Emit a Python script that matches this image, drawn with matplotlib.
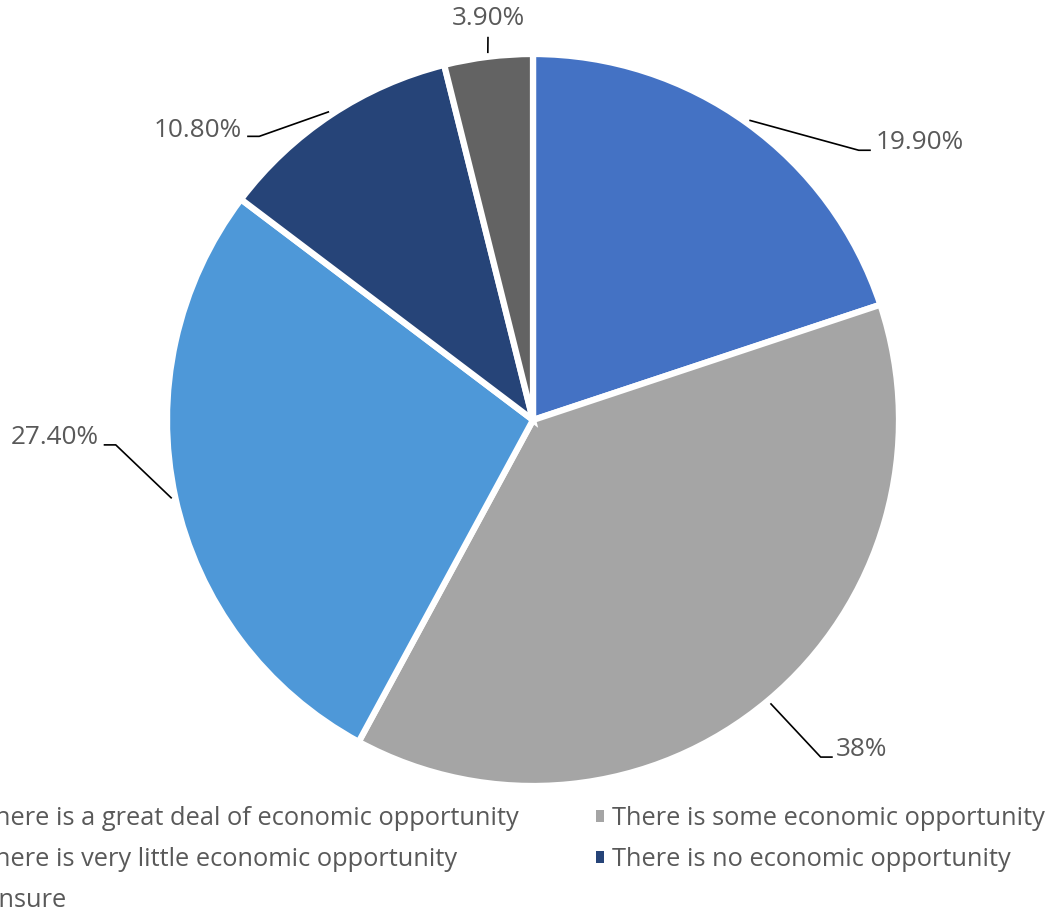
import matplotlib
matplotlib.use("Agg")
import matplotlib.pyplot as plt
from matplotlib.patches import Patch
import numpy as np

categories = [
    "There is a great deal of economic opportunity",
    "There is some economic opportunity",
    "There is very little economic opportunity",
    "There is no economic opportunity",
    "Unsure",
]
values = [19.9, 38.0, 27.4, 10.8, 3.9]
value_labels = ["19.90%", "38%", "27.40%", "10.80%", "3.90%"]
colors = ["#4472C4", "#A5A5A5", "#4E98D8", "#264478", "#636363"]

# label layout (data units, radius = 1): elbow point, line end, text anchor, ha
label_layout = [
    ((0.890, 0.737), (0.923, 0.737), (0.937, 0.759), "left"),
    ((0.786, -0.921), (0.819, -0.921), (0.828, -0.899), "left"),
    ((-1.140, -0.068), (-1.173, -0.068), (-1.187, -0.047), "right"),
    ((-0.748, 0.775), (-0.781, 0.775), (-0.795, 0.792), "right"),
    ((-0.123, 1.047), (-0.123, 1.047), (-0.123, 1.098), "center"),
]

W, H = 1054, 911
plt.rcParams['font.family'] = ['Open Sans', 'DejaVu Sans']
fig = plt.figure(figsize=(W / 100, H / 100), dpi=100)

cx, cy, r = 533, 420, 366
ax = fig.add_axes([(cx - r) / W, (H - cy - r) / H, 2 * r / W, 2 * r / H])
wedges, _ = ax.pie(values, colors=colors, startangle=90, counterclock=False,
                   radius=1.0, wedgeprops=dict(edgecolor="white", linewidth=4.5))
ax.set_xlim(-1, 1)
ax.set_ylim(-1, 1)
ax.set_aspect("equal")
ax.axis("off")

text_color = "#595959"
fs_lab = 18.8
fs_leg = 18.3
for w, lab, (elbow, lend, tpos, ha) in zip(wedges, value_labels, label_layout):
    mid = np.deg2rad((w.theta1 + w.theta2) / 2)
    start = (1.01 * np.cos(mid), 1.01 * np.sin(mid))
    ax.plot([start[0], elbow[0], lend[0]], [start[1], elbow[1], lend[1]],
            color="black", lw=1.2, clip_on=False, solid_capstyle="butt")
    ax.text(tpos[0], tpos[1], lab, ha=ha, va="center", fontsize=fs_lab,
            color=text_color, clip_on=False)

order = [0, 2, 4, 1, 3]
handles = [Patch(facecolor=colors[i], edgecolor="none") for i in order]
labels = [categories[i] for i in order]
leg = fig.legend(handles, labels, ncol=2, loc="upper left",
                 bbox_to_anchor=(-35 / W, 1 - 806 / H), frameon=False,
                 fontsize=fs_leg, handlelength=0.32, handleheight=0.32,
                 handletextpad=0.3, columnspacing=3.05, labelspacing=0.63,
                 borderpad=0, borderaxespad=0)
for t in leg.get_texts():
    t.set_color(text_color)

fig.savefig("out.png", dpi=100)
